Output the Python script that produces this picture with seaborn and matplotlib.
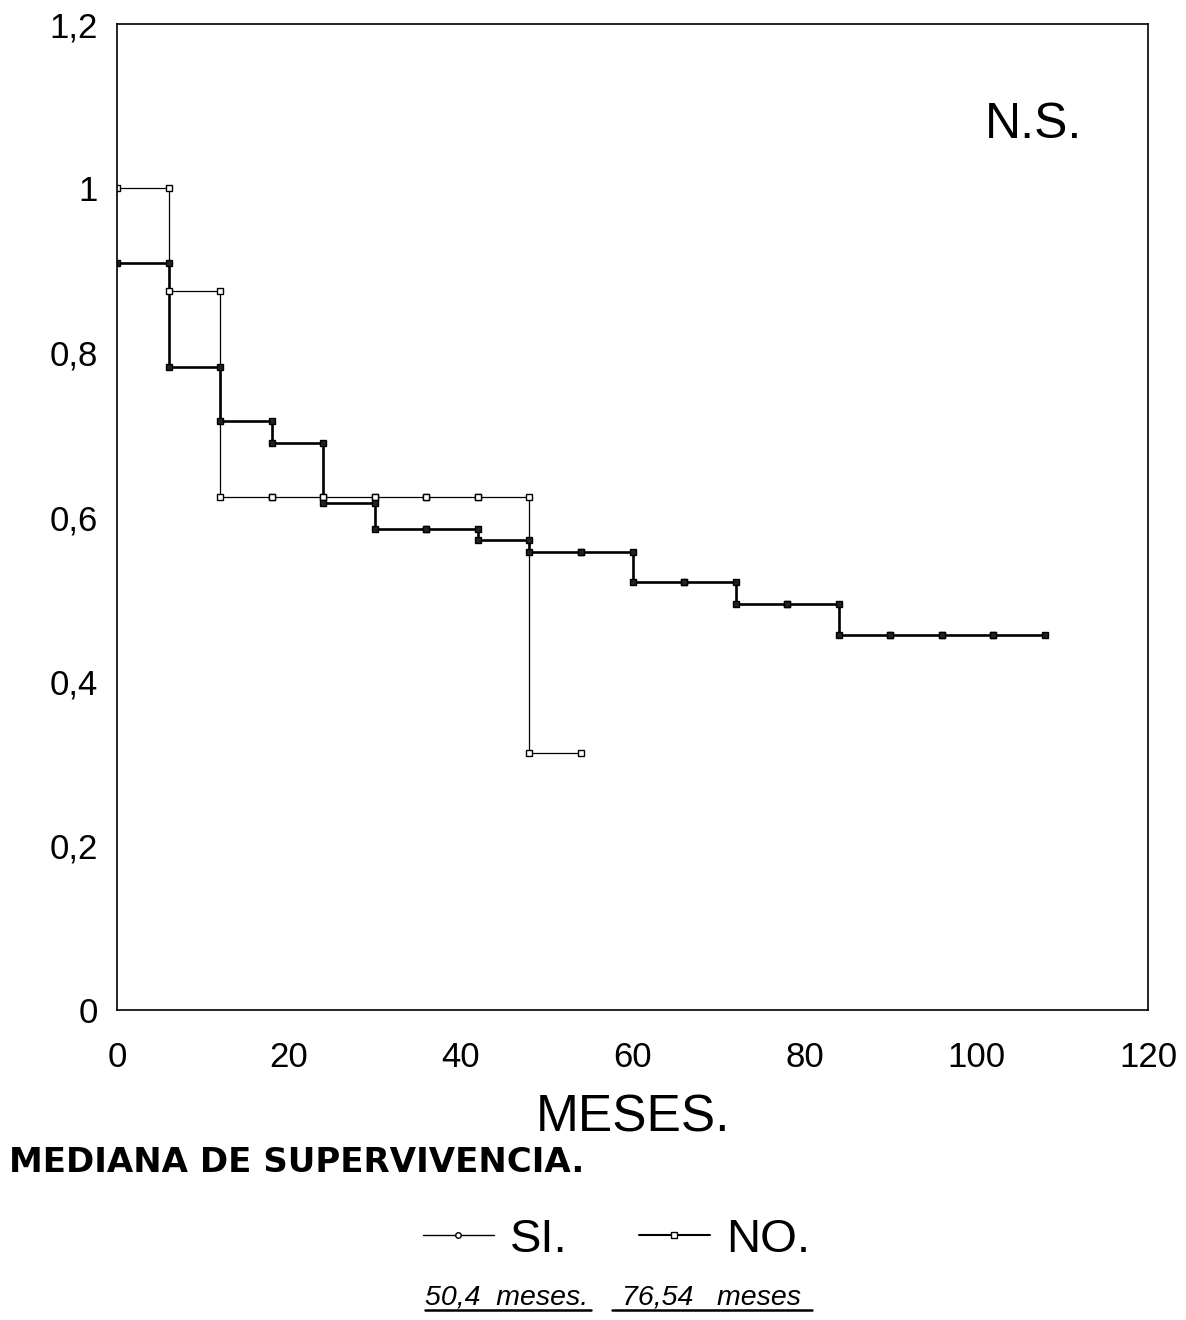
import pandas as pd
import matplotlib.pyplot as plt
import seaborn as sns
from matplotlib.lines import Line2D

# Life-table survival, one value per 6-month interval
MONTHS_SI = [0, 6, 12, 18, 24, 30, 36, 42, 48, 54]
SURV_SI = [1.0, 0.875, 0.625, 0.625, 0.625, 0.625, 0.625, 0.625, 0.3125]

MONTHS_NO = [0, 6, 12, 18, 24, 30, 36, 42, 48, 54, 60, 66, 72, 78, 84, 90, 96, 102, 108]
SURV_NO = [0.909, 0.783, 0.717, 0.690, 0.617, 0.585, 0.585, 0.572, 0.558,
           0.558, 0.521, 0.521, 0.494, 0.494, 0.456, 0.456, 0.456, 0.456]

X_TICKS = [0, 20, 40, 60, 80, 100, 120]
Y_TICKS = [0, 0.2, 0.4, 0.6, 0.8, 1.0, 1.2]
Y_TICK_LABELS = ['0', '0,2', '0,4', '0,6', '0,8', '1', '1,2']

GROUPS = ['SI.', 'NO.']
MEDIANS = ['50,4  meses.', '76,54   meses']

sns.set_theme(style="white")
plt.rcParams['font.family'] = ['Liberation Sans', 'DejaVu Sans']
plt.rcParams['text.color'] = 'black'


def step_frame(months, surv, group):
    """Points for a steps-post line (last value repeated at the end)"""
    return pd.DataFrame({'mes': months, 'surv': list(surv) + [surv[-1]], 'grupo': group})


def marker_frame(months, surv, group):
    """A marker at the start and end of every interval"""
    xs, ys = [], []
    for i, v in enumerate(surv):
        xs += [months[i], months[i + 1]]
        ys += [v, v]
    return pd.DataFrame({'mes': xs, 'surv': ys, 'grupo': group})


df_si = step_frame(MONTHS_SI, SURV_SI, GROUPS[0])
df_no = step_frame(MONTHS_NO, SURV_NO, GROUPS[1])
mk_si = marker_frame(MONTHS_SI, SURV_SI, GROUPS[0])
mk_no = marker_frame(MONTHS_NO, SURV_NO, GROUPS[1])

fig = plt.figure(figsize=(11.86, 13.2), dpi=100)
ax = fig.add_axes([0.0987, 0.2348, 0.8693, 0.747])

sns.lineplot(data=df_si, x='mes', y='surv', drawstyle='steps-post',
             color='black', linewidth=0.9, ax=ax, legend=False)
sns.lineplot(data=df_no, x='mes', y='surv', drawstyle='steps-post',
             color='black', linewidth=1.9, ax=ax, legend=False)
ax.plot(mk_si['mes'], mk_si['surv'], linestyle='none', marker='s', markersize=4.5,
        markerfacecolor='white', markeredgecolor='black', markeredgewidth=1.0)
ax.plot(mk_no['mes'], mk_no['surv'], linestyle='none', marker='s', markersize=5,
        markerfacecolor='#222222', markeredgecolor='black', markeredgewidth=1.0)

ax.set_xlim(0, 120)
ax.set_ylim(0, 1.2)
ax.set_xticks(X_TICKS)
ax.set_xticklabels([str(t) for t in X_TICKS])
ax.set_yticks(Y_TICKS)
ax.set_yticklabels(Y_TICK_LABELS)
ax.tick_params(axis='both', direction='in', length=12, width=1, colors='black',
               labelsize=25, labelcolor='black')
ax.tick_params(axis='x', pad=22)
ax.tick_params(axis='y', pad=14)
for side in ax.spines.values():
    side.set_color('black')
    side.set_linewidth(1.2)

ax.set_ylabel('')
ax.set_xlabel('MESES.', fontsize=37, color='black')
ax.xaxis.set_label_coords(0.5, -0.085)

ax.text(106.7, 1.077, 'N.S.', fontsize=36, ha='center', va='center')

fig.text(0.008, 0.119, 'MEDIANA DE SUPERVIVENCIA.', fontsize=24.5, ha='left', va='center',
         fontweight='bold', family=['DejaVu Sans'])

# legend below the chart
handles = [
    Line2D([], [], color='black', linewidth=1.0, marker='o', markersize=4,
           markerfacecolor='white', markeredgecolor='black'),
    Line2D([], [], color='black', linewidth=1.5, marker='s', markersize=4,
           markerfacecolor='white', markeredgecolor='black'),
]
fig.legend(handles, GROUPS, loc='center', bbox_to_anchor=(0.52, 0.0606), ncol=2,
           frameon=False, fontsize=34, handlelength=1.5, handletextpad=0.35,
           columnspacing=1.5)

# medians, italic and underlined
for xc, txt in zip([0.4275, 0.600], MEDIANS):
    fig.text(xc, 0.0115, txt, fontsize=20.5, style='italic', ha='center', va='baseline')
for x0, x1 in [(0.358, 0.498), (0.516, 0.685)]:
    fig.add_artist(Line2D([x0, x1], [0.0075, 0.0075], color='black', linewidth=1.8))

fig.savefig('out.png', dpi=100)
